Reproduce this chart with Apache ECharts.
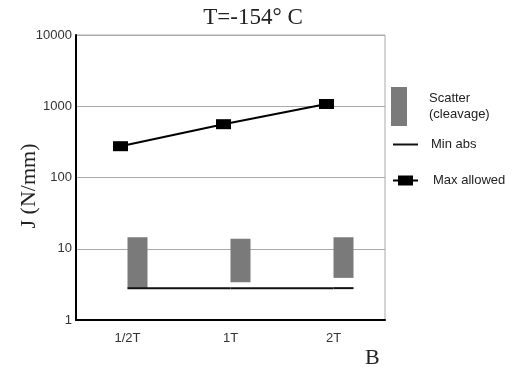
<!DOCTYPE html>
<html>
<head>
<meta charset="utf-8">
<script src="https://cdn.jsdelivr.net/npm/echarts@6/dist/echarts.min.js"></script>
<style>
  html, body { margin: 0; padding: 0; background: #fff; }
  #chart { width: 517px; height: 367px; }
</style>
</head>
<body>
<div id="chart"></div>
<script>
// specimen sizes on the x axis
const categories = ["1/2T", "1T", "2T"];
// cleavage scatter band, low and high end per specimen
const scatterLow = [2.8, 3.4, 3.9];
const scatterHigh = [14.5, 13.8, 14.5];
// minimum absorbed value (flat)
const minAbs = [2.8, 2.8, 2.8];
// max allowed J
const maxAllowed = [275, 560, 1075];
const yTickLabels = ["1", "10", "100", "1000", "10000"];

const serif = "'Liberation Serif', 'DejaVu Serif', serif";
const sans = "'Liberation Sans', Arial, sans-serif";

const chart = echarts.init(document.getElementById("chart"), null, { renderer: "canvas" });

const BAR_OFF = 10;   // scatter bar sits to the right of the category
const BAR_W = 20;
const MARK_OFF = -7;  // squares sit a bit to the left

chart.setOption({
  animation: false,
  title: [
    {
      text: "T=-154° C",
      left: 248,
      top: 1,
      textAlign: "center",
      textStyle: { fontFamily: serif, fontSize: 23, fontWeight: "normal", color: "#222" },
    },
    {
      text: "B",
      left: 360,
      top: 342,
      textStyle: { fontFamily: serif, fontSize: 22, fontWeight: "normal", color: "#222" },
    },
  ],
  legend: [
    {
      left: 386, top: 82, orient: "vertical",
      itemWidth: 16, itemHeight: 39, selectedMode: false,
      data: [{ name: "Scatter (cleavage)", icon: "rect" }],
      formatter: () => "Scatter\n(cleavage)",
      textStyle: { fontFamily: sans, fontSize: 13, color: "#222", lineHeight: 16, padding: [0, 0, 0, 17] },
    },
    {
      left: 388, top: 133, orient: "vertical",
      itemWidth: 25, itemHeight: 2, selectedMode: false,
      data: [{ name: "Min abs", icon: "rect" }],
      textStyle: { fontFamily: sans, fontSize: 13, color: "#222", padding: [0, 0, 0, 8] },
    },
    {
      left: 388, top: 169, orient: "vertical",
      itemWidth: 25, itemHeight: 11, selectedMode: false,
      data: [{
        name: "Max allowed",
        icon: "path://M0,4 L5,4 L5,0 L20,0 L20,4 L25,4 L25,6 L20,6 L20,10 L5,10 L5,6 L0,6 Z",
      }],
      textStyle: { fontFamily: sans, fontSize: 13, color: "#222", padding: [0, 0, 0, 10] },
    },
  ],
  grid: {
    left: 76, top: 35, width: 309, height: 285,
    show: true, borderColor: "#aaa", borderWidth: 1,
    outerBoundsMode: "none",
  },
  xAxis: {
    type: "category",
    data: categories,
    boundaryGap: true,
    axisLine: { lineStyle: { color: "#000", width: 2 } },
    axisTick: { show: false },
    axisLabel: { fontFamily: sans, fontSize: 13, color: "#333", margin: 12 },
  },
  yAxis: {
    type: "log",
    logBase: 10,
    min: 1,
    max: 10000,
    name: "J (N/mm)",
    nameLocation: "middle",
    nameRotate: 90,
    nameGap: 36,
    nameMoveOverlap: false,
    nameTextStyle: { fontFamily: serif, fontSize: 22, color: "#222", padding: [0, 17, 0, 0] },
    axisLine: { show: true, lineStyle: { color: "#000", width: 2 } },
    axisTick: { show: false },
    axisLabel: {
      fontFamily: sans, fontSize: 13, color: "#333", margin: 4,
      formatter: (v) => yTickLabels[Math.round(Math.log10(v))],
    },
    splitLine: { show: true, lineStyle: { color: "#aaa", width: 1 } },
    minorTick: { show: false },
  },
  series: [
    {
      name: "Scatter (cleavage)",
      type: "custom",
      itemStyle: { color: "#7a7a7a" },
      data: categories.map((c, i) => [i, scatterLow[i], scatterHigh[i]]),
      renderItem: (params, api) => {
        const lo = api.coord([api.value(0), api.value(1)]);
        const hi = api.coord([api.value(0), api.value(2)]);
        const cx = lo[0] + BAR_OFF;
        return {
          type: "rect",
          shape: { x: cx - BAR_W / 2, y: hi[1], width: BAR_W, height: lo[1] - hi[1] },
          style: { fill: "#7a7a7a" },
        };
      },
    },
    {
      name: "Min abs",
      type: "custom",
      itemStyle: { color: "#111" },
      data: categories.map((c, i) => [i, minAbs[i]]),
      renderItem: (params, api) => {
        const i = params.dataIndex;
        const p = api.coord([i, api.value(1)]);
        let x2;
        if (i < categories.length - 1) {
          x2 = api.coord([i + 1, minAbs[i + 1]])[0];
        } else {
          x2 = p[0] + BAR_OFF + BAR_W / 2;
        }
        return {
          type: "line",
          shape: { x1: p[0], y1: p[1], x2: x2, y2: p[1] },
          style: { stroke: "#111", lineWidth: 2 },
        };
      },
      z: 3,
    },
    {
      name: "Max allowed",
      type: "custom",
      itemStyle: { color: "#000" },
      data: categories.map((c, i) => [i, maxAllowed[i]]),
      renderItem: (params, api) => {
        const i = params.dataIndex;
        const p = api.coord([i, api.value(1)]);
        const x = p[0] + MARK_OFF;
        const children = [];
        if (i < categories.length - 1) {
          const q = api.coord([i + 1, maxAllowed[i + 1]]);
          children.push({
            type: "line",
            shape: { x1: x, y1: p[1], x2: q[0] + MARK_OFF, y2: q[1] },
            style: { stroke: "#000", lineWidth: 2 },
          });
        }
        children.push({
          type: "rect",
          shape: { x: x - 7.5, y: p[1] - 5, width: 15, height: 10 },
          style: { fill: "#000" },
        });
        return { type: "group", children: children };
      },
      z: 4,
    },
  ],
});

window.addEventListener("resize", () => chart.resize());
</script>
</body>
</html>
